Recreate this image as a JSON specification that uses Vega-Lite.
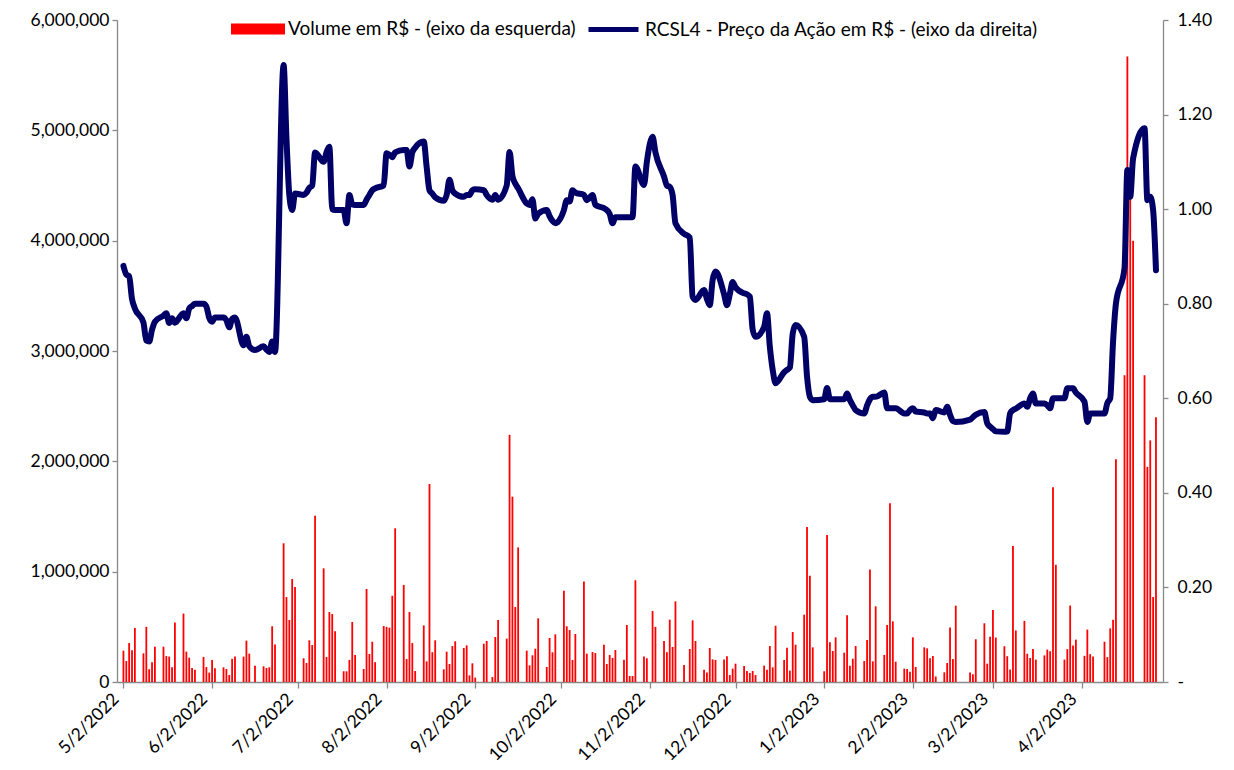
{
  "$schema": "https://vega.github.io/schema/vega-lite/v6.json",
  "width": 1046,
  "height": 662,
  "autosize": {"type": "none"},
  "padding": {"left": 117, "top": 20, "right": 71, "bottom": 88},
  "background": "white",
  "config": {
    "view": {"stroke": null},
    "font": "Lato",
    "axis": {"labelFont": "Lato", "labelFontSize": 17.5, "labelColor": "#000000", "domainColor": "#898989", "tickColor": "#898989", "grid": false, "title": null, "domainWidth": 1.3, "tickWidth": 1.3},
    "legend": {"labelFont": "Lato", "labelFontSize": 19, "labelColor": "#000000", "labelLimit": 700}
  },
  "data": {"values": [
    {"d":"2022-05-02","v":284000,"p":0.88},
    {"d":"2022-05-03","v":190000,"p":0.862},
    {"d":"2022-05-04","v":353000,"p":0.858},
    {"d":"2022-05-05","v":287000,"p":0.81},
    {"d":"2022-05-06","v":490000,"p":0.79},
    {"d":"2022-05-09","v":260000,"p":0.76},
    {"d":"2022-05-10","v":500000,"p":0.722},
    {"d":"2022-05-11","v":115000,"p":0.72},
    {"d":"2022-05-12","v":180000,"p":0.745},
    {"d":"2022-05-13","v":320000,"p":0.762},
    {"d":"2022-05-16","v":320000,"p":0.775},
    {"d":"2022-05-17","v":235000,"p":0.78},
    {"d":"2022-05-18","v":230000,"p":0.759},
    {"d":"2022-05-19","v":133000,"p":0.769},
    {"d":"2022-05-20","v":540000,"p":0.76},
    {"d":"2022-05-23","v":620000,"p":0.78},
    {"d":"2022-05-24","v":275000,"p":0.769},
    {"d":"2022-05-25","v":220000,"p":0.79},
    {"d":"2022-05-26","v":127000,"p":0.795},
    {"d":"2022-05-27","v":110000,"p":0.8},
    {"d":"2022-05-30","v":227000,"p":0.8},
    {"d":"2022-05-31","v":136000,"p":0.794},
    {"d":"2022-06-01","v":85000,"p":0.77},
    {"d":"2022-06-02","v":200000,"p":0.762},
    {"d":"2022-06-03","v":124000,"p":0.771},
    {"d":"2022-06-06","v":133000,"p":0.771},
    {"d":"2022-06-07","v":118000,"p":0.765},
    {"d":"2022-06-08","v":63000,"p":0.75},
    {"d":"2022-06-09","v":210000,"p":0.768},
    {"d":"2022-06-10","v":230000,"p":0.771},
    {"d":"2022-06-13","v":230000,"p":0.712},
    {"d":"2022-06-14","v":375000,"p":0.73},
    {"d":"2022-06-15","v":257000,"p":0.71},
    {"d":"2022-06-17","v":148000,"p":0.702},
    {"d":"2022-06-20","v":142000,"p":0.71},
    {"d":"2022-06-21","v":127000,"p":0.703},
    {"d":"2022-06-22","v":133000,"p":0.698},
    {"d":"2022-06-23","v":505000,"p":0.72},
    {"d":"2022-06-24","v":340000,"p":0.698},
    {"d":"2022-06-27","v":1257000,"p":1.305},
    {"d":"2022-06-28","v":770000,"p":1.15},
    {"d":"2022-06-29","v":562000,"p":1.03},
    {"d":"2022-06-30","v":933000,"p":0.998},
    {"d":"2022-07-01","v":860000,"p":1.033},
    {"d":"2022-07-04","v":215000,"p":1.03},
    {"d":"2022-07-05","v":172000,"p":1.035},
    {"d":"2022-07-06","v":378000,"p":1.045},
    {"d":"2022-07-07","v":335000,"p":1.05},
    {"d":"2022-07-08","v":1507000,"p":1.12},
    {"d":"2022-07-11","v":1030000,"p":1.1},
    {"d":"2022-07-12","v":227000,"p":1.12},
    {"d":"2022-07-13","v":634000,"p":1.132},
    {"d":"2022-07-14","v":616000,"p":1.0},
    {"d":"2022-07-15","v":460000,"p":0.998},
    {"d":"2022-07-18","v":97000,"p":0.998},
    {"d":"2022-07-19","v":97000,"p":0.97},
    {"d":"2022-07-20","v":200000,"p":1.03},
    {"d":"2022-07-21","v":544000,"p":1.01},
    {"d":"2022-07-22","v":245000,"p":1.009},
    {"d":"2022-07-25","v":118000,"p":1.009},
    {"d":"2022-07-26","v":843000,"p":1.02},
    {"d":"2022-07-27","v":254000,"p":1.03},
    {"d":"2022-07-28","v":365000,"p":1.04},
    {"d":"2022-07-29","v":180000,"p":1.044},
    {"d":"2022-08-01","v":507000,"p":1.05},
    {"d":"2022-08-02","v":500000,"p":1.118},
    {"d":"2022-08-03","v":492000,"p":1.115},
    {"d":"2022-08-04","v":782000,"p":1.11},
    {"d":"2022-08-05","v":1393000,"p":1.12},
    {"d":"2022-08-08","v":880000,"p":1.125},
    {"d":"2022-08-09","v":208000,"p":1.125},
    {"d":"2022-08-10","v":634000,"p":1.09},
    {"d":"2022-08-11","v":353000,"p":1.12},
    {"d":"2022-08-12","v":100000,"p":1.13},
    {"d":"2022-08-15","v":513000,"p":1.143},
    {"d":"2022-08-16","v":187000,"p":1.09},
    {"d":"2022-08-17","v":1795000,"p":1.04},
    {"d":"2022-08-18","v":270000,"p":1.033},
    {"d":"2022-08-19","v":378000,"p":1.025},
    {"d":"2022-08-22","v":115000,"p":1.018},
    {"d":"2022-08-23","v":275000,"p":1.03},
    {"d":"2022-08-24","v":163000,"p":1.062},
    {"d":"2022-08-25","v":326000,"p":1.04},
    {"d":"2022-08-26","v":369000,"p":1.033},
    {"d":"2022-08-29","v":308000,"p":1.026},
    {"d":"2022-08-30","v":332000,"p":1.03},
    {"d":"2022-08-31","v":60000,"p":1.03},
    {"d":"2022-09-01","v":169000,"p":1.04},
    {"d":"2022-09-02","v":40000,"p":1.042},
    {"d":"2022-09-05","v":347000,"p":1.04},
    {"d":"2022-09-06","v":372000,"p":1.03},
    {"d":"2022-09-08","v":45000,"p":1.02},
    {"d":"2022-09-09","v":408000,"p":1.03},
    {"d":"2022-09-10","v":562000,"p":1.02},
    {"d":"2022-09-13","v":393000,"p":1.05},
    {"d":"2022-09-14","v":2240000,"p":1.121},
    {"d":"2022-09-15","v":1680000,"p":1.07},
    {"d":"2022-09-16","v":680000,"p":1.054},
    {"d":"2022-09-17","v":1220000,"p":1.044},
    {"d":"2022-09-20","v":284000,"p":1.012},
    {"d":"2022-09-21","v":151000,"p":1.009},
    {"d":"2022-09-22","v":242000,"p":1.021},
    {"d":"2022-09-23","v":302000,"p":0.98},
    {"d":"2022-09-24","v":577000,"p":0.99},
    {"d":"2022-09-27","v":136000,"p":0.998},
    {"d":"2022-09-28","v":399000,"p":0.985},
    {"d":"2022-09-29","v":269000,"p":0.975},
    {"d":"2022-09-30","v":432000,"p":0.97},
    {"d":"2022-10-03","v":828000,"p":0.998},
    {"d":"2022-10-04","v":505000,"p":1.019},
    {"d":"2022-10-05","v":471000,"p":1.016},
    {"d":"2022-10-06","v":200000,"p":1.04},
    {"d":"2022-10-07","v":435000,"p":1.035},
    {"d":"2022-10-10","v":912000,"p":1.03},
    {"d":"2022-10-11","v":257000,"p":1.019},
    {"d":"2022-10-13","v":272000,"p":1.03},
    {"d":"2022-10-14","v":263000,"p":1.009},
    {"d":"2022-10-17","v":338000,"p":1.002},
    {"d":"2022-10-18","v":163000,"p":0.998},
    {"d":"2022-10-19","v":245000,"p":0.99},
    {"d":"2022-10-20","v":218000,"p":0.97},
    {"d":"2022-10-21","v":290000,"p":0.983},
    {"d":"2022-10-24","v":202000,"p":0.983},
    {"d":"2022-10-25","v":517000,"p":0.983},
    {"d":"2022-10-26","v":54000,"p":0.983},
    {"d":"2022-10-27","v":54000,"p":0.983},
    {"d":"2022-10-28","v":922000,"p":1.09},
    {"d":"2022-10-31","v":230000,"p":1.051},
    {"d":"2022-11-01","v":215000,"p":1.1},
    {"d":"2022-11-03","v":643000,"p":1.153},
    {"d":"2022-11-04","v":500000,"p":1.12},
    {"d":"2022-11-07","v":372000,"p":1.069},
    {"d":"2022-11-08","v":270000,"p":1.05},
    {"d":"2022-11-09","v":565000,"p":1.047},
    {"d":"2022-11-10","v":317000,"p":1.03},
    {"d":"2022-11-11","v":731000,"p":0.97},
    {"d":"2022-11-14","v":154000,"p":0.948},
    {"d":"2022-11-16","v":299000,"p":0.94},
    {"d":"2022-11-17","v":559000,"p":0.815},
    {"d":"2022-11-18","v":372000,"p":0.808},
    {"d":"2022-11-21","v":112000,"p":0.829},
    {"d":"2022-11-22","v":85000,"p":0.81},
    {"d":"2022-11-23","v":308000,"p":0.797},
    {"d":"2022-11-24","v":205000,"p":0.85},
    {"d":"2022-11-25","v":200000,"p":0.868},
    {"d":"2022-11-28","v":205000,"p":0.82},
    {"d":"2022-11-29","v":233000,"p":0.797},
    {"d":"2022-11-30","v":63000,"p":0.82},
    {"d":"2022-12-01","v":121000,"p":0.846},
    {"d":"2022-12-02","v":166000,"p":0.835},
    {"d":"2022-12-05","v":145000,"p":0.822},
    {"d":"2022-12-06","v":100000,"p":0.82},
    {"d":"2022-12-07","v":82000,"p":0.815},
    {"d":"2022-12-08","v":100000,"p":0.745},
    {"d":"2022-12-09","v":63000,"p":0.73},
    {"d":"2022-12-12","v":148000,"p":0.751},
    {"d":"2022-12-13","v":112000,"p":0.78},
    {"d":"2022-12-14","v":326000,"p":0.709},
    {"d":"2022-12-15","v":133000,"p":0.66},
    {"d":"2022-12-16","v":510000,"p":0.632},
    {"d":"2022-12-19","v":200000,"p":0.655},
    {"d":"2022-12-20","v":311000,"p":0.66},
    {"d":"2022-12-21","v":103000,"p":0.665},
    {"d":"2022-12-22","v":453000,"p":0.737},
    {"d":"2022-12-23","v":338000,"p":0.755},
    {"d":"2022-12-26","v":610000,"p":0.73},
    {"d":"2022-12-27","v":1405000,"p":0.646},
    {"d":"2022-12-28","v":963000,"p":0.603},
    {"d":"2022-12-29","v":314000,"p":0.596},
    {"d":"2023-01-02","v":97000,"p":0.598},
    {"d":"2023-01-03","v":1332000,"p":0.622},
    {"d":"2023-01-04","v":360000,"p":0.598},
    {"d":"2023-01-05","v":281000,"p":0.598},
    {"d":"2023-01-06","v":405000,"p":0.598},
    {"d":"2023-01-09","v":266000,"p":0.598},
    {"d":"2023-01-10","v":604000,"p":0.61},
    {"d":"2023-01-11","v":148000,"p":0.596},
    {"d":"2023-01-12","v":211000,"p":0.585},
    {"d":"2023-01-13","v":326000,"p":0.575},
    {"d":"2023-01-16","v":190000,"p":0.568},
    {"d":"2023-01-17","v":380000,"p":0.585},
    {"d":"2023-01-18","v":1020000,"p":0.598},
    {"d":"2023-01-19","v":187000,"p":0.603},
    {"d":"2023-01-20","v":686000,"p":0.603},
    {"d":"2023-01-23","v":245000,"p":0.612},
    {"d":"2023-01-24","v":517000,"p":0.579},
    {"d":"2023-01-25","v":1620000,"p":0.579},
    {"d":"2023-01-26","v":550000,"p":0.579},
    {"d":"2023-01-27","v":184000,"p":0.579},
    {"d":"2023-01-30","v":121000,"p":0.568},
    {"d":"2023-01-31","v":118000,"p":0.568},
    {"d":"2023-02-01","v":94000,"p":0.575},
    {"d":"2023-02-02","v":405000,"p":0.579},
    {"d":"2023-02-03","v":136000,"p":0.572},
    {"d":"2023-02-06","v":314000,"p":0.57},
    {"d":"2023-02-07","v":305000,"p":0.568},
    {"d":"2023-02-08","v":215000,"p":0.568},
    {"d":"2023-02-09","v":236000,"p":0.558},
    {"d":"2023-02-10","v":50000,"p":0.575},
    {"d":"2023-02-13","v":88000,"p":0.57},
    {"d":"2023-02-14","v":172000,"p":0.582},
    {"d":"2023-02-15","v":495000,"p":0.565},
    {"d":"2023-02-16","v":208000,"p":0.552},
    {"d":"2023-02-17","v":692000,"p":0.55},
    {"d":"2023-02-22","v":85000,"p":0.555},
    {"d":"2023-02-23","v":70000,"p":0.56},
    {"d":"2023-02-24","v":387000,"p":0.565},
    {"d":"2023-02-27","v":532000,"p":0.571},
    {"d":"2023-02-28","v":166000,"p":0.547},
    {"d":"2023-03-01","v":410000,"p":0.54},
    {"d":"2023-03-02","v":652000,"p":0.535},
    {"d":"2023-03-03","v":403000,"p":0.53},
    {"d":"2023-03-06","v":324000,"p":0.529},
    {"d":"2023-03-07","v":234000,"p":0.53},
    {"d":"2023-03-08","v":113000,"p":0.568},
    {"d":"2023-03-09","v":1232000,"p":0.575},
    {"d":"2023-03-10","v":467000,"p":0.578},
    {"d":"2023-03-13","v":554000,"p":0.589},
    {"d":"2023-03-14","v":256000,"p":0.582},
    {"d":"2023-03-15","v":218000,"p":0.6},
    {"d":"2023-03-16","v":298000,"p":0.61},
    {"d":"2023-03-17","v":203000,"p":0.589},
    {"d":"2023-03-20","v":241000,"p":0.589},
    {"d":"2023-03-21","v":294000,"p":0.585},
    {"d":"2023-03-22","v":279000,"p":0.579},
    {"d":"2023-03-23","v":1766000,"p":0.6},
    {"d":"2023-03-24","v":1062000,"p":0.6},
    {"d":"2023-03-27","v":203000,"p":0.6},
    {"d":"2023-03-28","v":298000,"p":0.621},
    {"d":"2023-03-29","v":693000,"p":0.621},
    {"d":"2023-03-30","v":331000,"p":0.621},
    {"d":"2023-03-31","v":384000,"p":0.612},
    {"d":"2023-04-03","v":237000,"p":0.593},
    {"d":"2023-04-04","v":475000,"p":0.55},
    {"d":"2023-04-05","v":252000,"p":0.568},
    {"d":"2023-04-06","v":230000,"p":0.568},
    {"d":"2023-04-10","v":365000,"p":0.568},
    {"d":"2023-04-11","v":226000,"p":0.59},
    {"d":"2023-04-12","v":486000,"p":0.6},
    {"d":"2023-04-13","v":565000,"p":0.72},
    {"d":"2023-04-14","v":2019000,"p":0.8},
    {"d":"2023-04-17","v":2780000,"p":0.875},
    {"d":"2023-04-18","v":5670000,"p":1.083},
    {"d":"2023-04-19","v":4390000,"p":1.026},
    {"d":"2023-04-20","v":4000000,"p":1.107},
    {"d":"2023-04-24","v":2780000,"p":1.171},
    {"d":"2023-04-25","v":1950000,"p":1.019},
    {"d":"2023-04-26","v":2190000,"p":1.026},
    {"d":"2023-04-27","v":770000,"p":0.998},
    {"d":"2023-04-28","v":2400000,"p":0.871}
  ]},
  "encoding": {
    "x": {
      "field": "d",
      "type": "temporal",
      "scale": {"type": "utc", "domain": [{"year": 2022, "month": 5, "date": 1, "hours": 12, "utc": true}, {"year": 2023, "month": 4, "date": 28, "hours": 17, "utc": true}]},
      "axis": {
        "values": [
          {"year": 2022, "month": 5, "date": 2, "utc": true},
          {"year": 2022, "month": 6, "date": 2, "utc": true},
          {"year": 2022, "month": 7, "date": 2, "utc": true},
          {"year": 2022, "month": 8, "date": 2, "utc": true},
          {"year": 2022, "month": 9, "date": 2, "utc": true},
          {"year": 2022, "month": 10, "date": 2, "utc": true},
          {"year": 2022, "month": 11, "date": 2, "utc": true},
          {"year": 2022, "month": 12, "date": 2, "utc": true},
          {"year": 2023, "month": 1, "date": 2, "utc": true},
          {"year": 2023, "month": 2, "date": 2, "utc": true},
          {"year": 2023, "month": 3, "date": 2, "utc": true},
          {"year": 2023, "month": 4, "date": 2, "utc": true}
        ],
        "labelExpr": "utcFormat(datum.value, '%-m/%-d/%Y')",
        "labelAngle": -45,
        "labelOverlap": false,
        "labelFlush": false,
        "labelOffset": -14,
        "tickSize": 6,
        "labelPadding": 2
      }
    }
  },
  "layer": [
    {
      "mark": {"type": "bar", "size": 1.8},
      "encoding": {
        "y": {
          "field": "v",
          "type": "quantitative",
          "scale": {"domain": [0, 6000000], "nice": false},
          "axis": {"orient": "left", "values": [0, 1000000, 2000000, 3000000, 4000000, 5000000, 6000000], "labelExpr": "format(datum.value, ',.0f')", "tickSize": 5, "labelPadding": 3}
        },
        "fill": {
          "datum": "Volume em R$ - (eixo da esquerda)",
          "scale": {"range": ["#FF0000"]},
          "legend": {"orient": "none", "legendX": 114, "legendY": -18, "title": null, "symbolType": "M-1,-0.2H1V0.2H-1Z", "symbolSize": 2916, "symbolStrokeWidth": 0, "labelOffset": 3}
        }
      }
    },
    {
      "mark": {"type": "line", "interpolate": "monotone", "strokeWidth": 6, "strokeJoin": "round", "strokeCap": "round"},
      "encoding": {
        "y": {
          "field": "p",
          "type": "quantitative",
          "scale": {"domain": [0, 1.4], "nice": false},
          "axis": {"orient": "right", "values": [0, 0.2, 0.4, 0.6, 0.8, 1.0, 1.2, 1.4], "labelExpr": "datum.value == 0 ? '-' : format(datum.value, '.2f')", "tickSize": 5, "labelPadding": 9}
        },
        "stroke": {
          "datum": "RCSL4 - Preço da Ação em R$ - (eixo da direita)",
          "scale": {"range": ["#000066"]},
          "legend": {"orient": "none", "legendX": 469, "legendY": -18, "title": null, "symbolType": "stroke", "symbolSize": 2500, "symbolStrokeWidth": 5, "labelOffset": 4}
        }
      }
    }
  ],
  "resolve": {"scale": {"y": "independent"}, "axis": {"y": "independent"}}
}
